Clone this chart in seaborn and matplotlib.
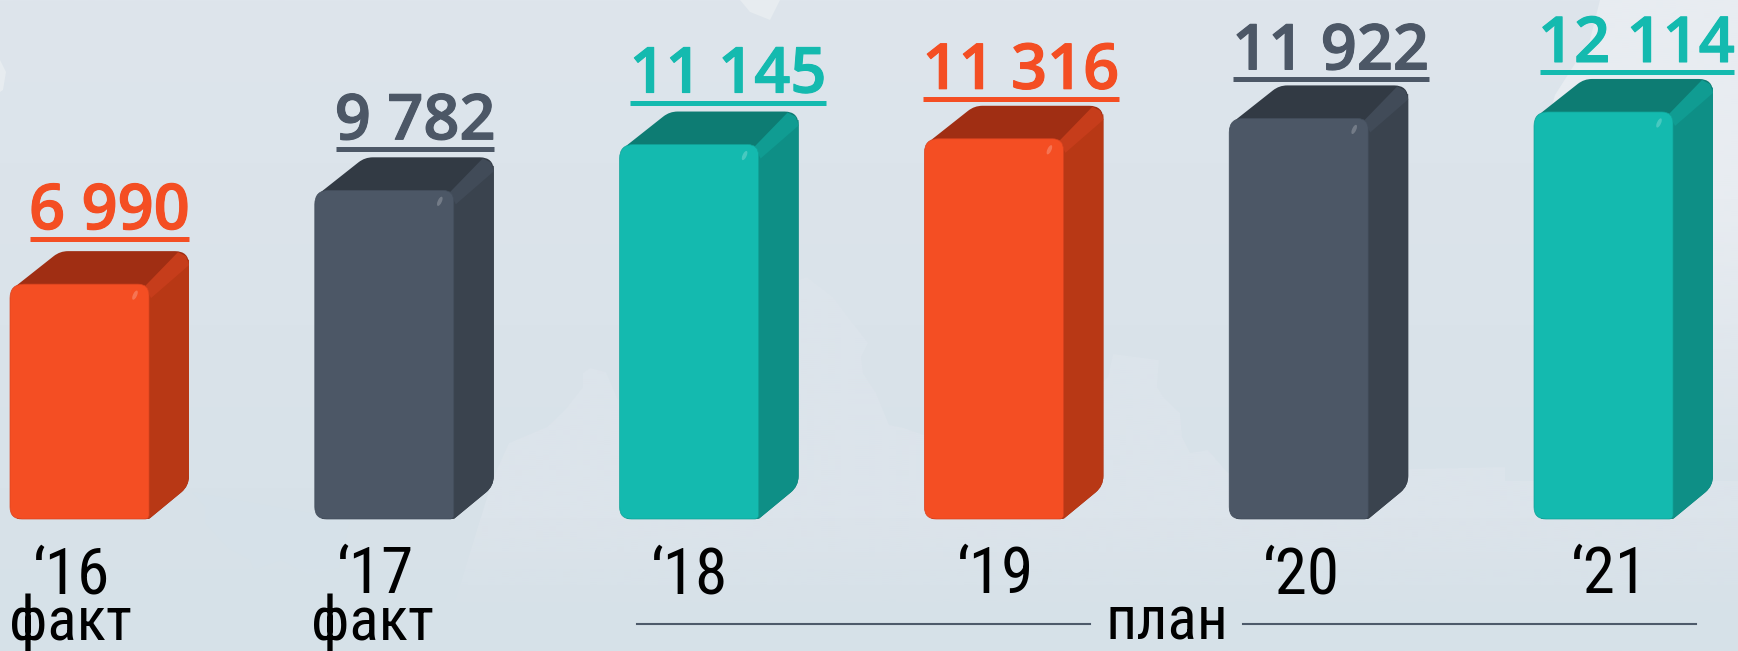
#!/usr/bin/env python3
import numpy as np
import pandas as pd
import matplotlib
matplotlib.use("Agg")
import matplotlib.pyplot as plt
import matplotlib.patheffects as pe
import seaborn as sns
from matplotlib.patches import PathPatch, Ellipse, Polygon
from matplotlib.path import Path
from matplotlib.transforms import Affine2D

W, H = 1738, 651

years = ["‘16", "‘17", "‘18", "‘19", "‘20", "‘21"]
values = [6990, 9782, 11145, 11316, 11922, 12114]
value_labels = ["6 990", "9 782", "11 145", "11 316", "11 922", "12 114"]
status = ["факт", "факт", "", "", "", ""]
plan_label = "план"

ORANGE = ("#F44E23", "#B83815", "#A02E13", "#C63D1B", "#D9431F")
SLATE = ("#4C5766", "#3A434E", "#323A44", "#414B58", "#434E5C")
TEAL = ("#14BAAF", "#0E8F86", "#0D7C73", "#109C92", "#10A398")
bar_styles = [ORANGE, SLATE, TEAL, ORANGE, SLATE, TEAL]

# pixel layout
label_dx = [30, 31, 39, 27, 32, 33]
line_half = [79, 79, 98, 98, 98, 97]
line_gap = [12, 8, 9, 7, 6, 7]
year_x = [72, 375, 690, 995, 1301, 1609]
status_x = [70, 372]

DX, DY = 40, 33
VALUE_FONT = ["Open Sans", "DejaVu Sans"]
NARROW_FONT = ["Roboto Condensed", "DejaVu Sans"]


def rounded(points, radii):
    """Closed path through points with each corner rounded by its radius."""
    pts = [np.array(p, dtype=float) for p in points]
    verts, codes = [], []
    n = len(pts)
    for i, (p, r) in enumerate(zip(pts, radii)):
        a = pts[i - 1] - p
        b = pts[(i + 1) % n] - p
        start = p + a / np.linalg.norm(a) * r
        end = p + b / np.linalg.norm(b) * r
        verts.append(start)
        codes.append(Path.MOVETO if i == 0 else Path.LINETO)
        verts.extend([p, end])
        codes.extend([Path.CURVE3, Path.CURVE3])
    verts.append(verts[0])
    codes.append(Path.CLOSEPOLY)
    return Path(verts, codes)


df = pd.DataFrame({"year": years, "value": values})

fig = plt.figure(figsize=(W / 100, H / 100), dpi=100)
ax = fig.add_axes([0, 0, 1, 1])
px = Affine2D().scale(1, -1).translate(0, H)

sns.barplot(data=df, x="year", y="value", hue="year",
            palette=[s[0] for s in bar_styles], width=0.456,
            dodge=False, legend=False, ax=ax, zorder=3)

scale = 0.0336
ax.set_ylim(-(H - 519) / scale, 519 / scale)
ax.set_xlim(-79.5 / 304.8, (W - 79.5) / 304.8)
ax.axis("off")
extent = (*ax.get_xlim(), *ax.get_ylim())

# backdrop: faint gradient with the washed out map shapes
rows = np.linspace(0, H, 326)
grad = (rows / H)[:, None, None]
top_col = np.array([222, 229, 236]) / 255
bot_col = np.array([214, 225, 232]) / 255
ax.imshow(top_col + (bot_col - top_col) * grad, aspect="auto", zorder=0,
          extent=extent, origin="upper")

# lighter land shape, fades out under the bars
light = np.ones((len(rows), 1, 4)) * np.array([220, 228, 235, 255]) / 255
light[:, 0, 3] = np.clip((620 - rows) / 100, 0, 1)
land = Polygon([(493, 478), (509, 443), (547, 427), (565, 410), (583, 387), (583, 373),
                (590, 368), (606, 372), (618, 400), (798, 280), (807, 277), (833, 297),
                (848, 317), (868, 343), (861, 357), (863, 373), (876, 393), (889, 425),
                (904, 428), (924, 435), (1063, 420), (1108, 377), (1113, 354), (1159, 360),
                (1157, 387), (1164, 398), (1180, 413), (1182, 437), (1190, 453), (1208, 450),
                (1228, 473), (1505, 467), (1505, 481), (1738, 481), (1738, 651), (440, 651)],
               transform=px, fc="none", ec="none")
ax.add_patch(land)
ax.imshow(light, aspect="auto", zorder=1, extent=extent, origin="upper", clip_path=land)

# pale corner at the top right, gone by the foot of the last bar
pale = np.ones((len(rows), 1, 4)) * np.array([232, 236, 241, 255]) / 255
pale[:, 0, 3] = np.clip((500 - rows) / 300, 0, 1)
corner = Polygon([(1600, 0), (1590, 40), (1555, 95), (1545, 130), (1600, 520), (1738, 520), (1738, 0)],
                 transform=px, fc="none", ec="none")
ax.add_patch(corner)
ax.imshow(pale, aspect="auto", zorder=1.1, extent=extent, origin="upper", clip_path=corner)
ax.set_xlim(extent[0], extent[1])
ax.set_ylim(extent[2], extent[3])

ax.add_patch(Polygon([(740, 0), (750, 12), (770, 20), (780, 0)],
                     transform=px, fc="#E7ECF0", ec="none", zorder=1))
ax.add_patch(Polygon([(0, 60), (6, 72), (3, 90), (0, 92)],
                     transform=px, fc="#E7ECF0", ec="none", zorder=1))
ax.add_patch(Polygon([(192, 492), (205, 507), (205, 523), (228, 548), (250, 560), (254, 570),
                      (281, 560), (308, 575), (339, 568), (350, 520)],
                     transform=px, fc="#D6E1E9", ec="none", zorder=1))

fig.canvas.draw()
for bar, val, text, style, off, half, gap in zip(
        ax.patches, values, value_labels, bar_styles, label_dx, line_half, line_gap):
    (x0, y0), (x1, y1) = ax.transData.transform(
        [(bar.get_x(), bar.get_height()), (bar.get_x() + bar.get_width(), 0)])
    top, bottom = H - y0, H - y1
    front, side, lid, ridge, edge = style
    bar.set_visible(False)

    back = rounded([(x0 + 7, top + 1), (x0 + 50, top - DY), (x1 + DX, top - DY),
                    (x1 + DX, bottom - DY), (x1, bottom), (x0 + 7, bottom)],
                   [1, 8, 14, 10, 1, 1])
    ax.add_patch(PathPatch(back, transform=px, fc=lid, ec="none", zorder=3))
    side_face = rounded([(x1, top + 8), (x1 + DX, top - DY + 8), (x1 + DX, bottom - DY),
                         (x1, bottom)], [1, 1, 10, 1])
    ax.add_patch(PathPatch(side_face, transform=px, fc=side, ec="none", zorder=3.1))
    ax.add_patch(Polygon([(x1 - 4, top + 2), (x1 + DX - 11, top - DY + 1),
                          (x1 + DX - 3, top - DY + 5), (x1 + DX, top - DY + 14), (x1 + 2, top + 14)],
                         transform=px, fc=ridge, ec="none", zorder=3.2))

    face = rounded([(x0, top), (x1, top), (x1, bottom), (x0, bottom)], [14, 11, 4, 12])
    ax.add_patch(PathPatch(face, transform=px, fc=front, ec=edge, lw=0.5, zorder=3.5))
    ax.add_patch(Ellipse((x1 - 14, top + 11), 4, 10, angle=25, transform=px,
                         fc="white", ec="none", alpha=0.22, zorder=3.6))

    cx = (x0 + x1) / 2 + off
    line_y = top - DY - gap
    ax.plot([cx - half, cx + half], [line_y, line_y], transform=px, color=front,
            lw=3.6, solid_capstyle="butt", zorder=4)
    ax.text(cx, line_y - 10, text, transform=px, ha="center", va="baseline", color=front,
            fontsize=45.5, fontweight=600, family=VALUE_FONT, zorder=4,
            path_effects=[pe.withStroke(linewidth=0.8, foreground=front)])

for x, year in zip(year_x, years):
    ax.text(x, 593, year, transform=px, ha="center", va="baseline", color="black",
            fontsize=47, family=NARROW_FONT, zorder=4)
for x, label in zip(status_x, status):
    ax.text(x, 640, label, transform=px, ha="center", va="baseline", color="black",
            fontsize=44, family=NARROW_FONT, zorder=4)
ax.text(1167, 640, plan_label, transform=px, ha="center", va="baseline", color="black",
        fontsize=44, family=NARROW_FONT, zorder=4)

for xa, xb in [(637, 1090), (1243, 1696)]:
    ax.plot([xa, xb], [624, 624], transform=px, color="#4D5A6A", lw=1.5, zorder=4)

fig.savefig("out.png", dpi=100)
